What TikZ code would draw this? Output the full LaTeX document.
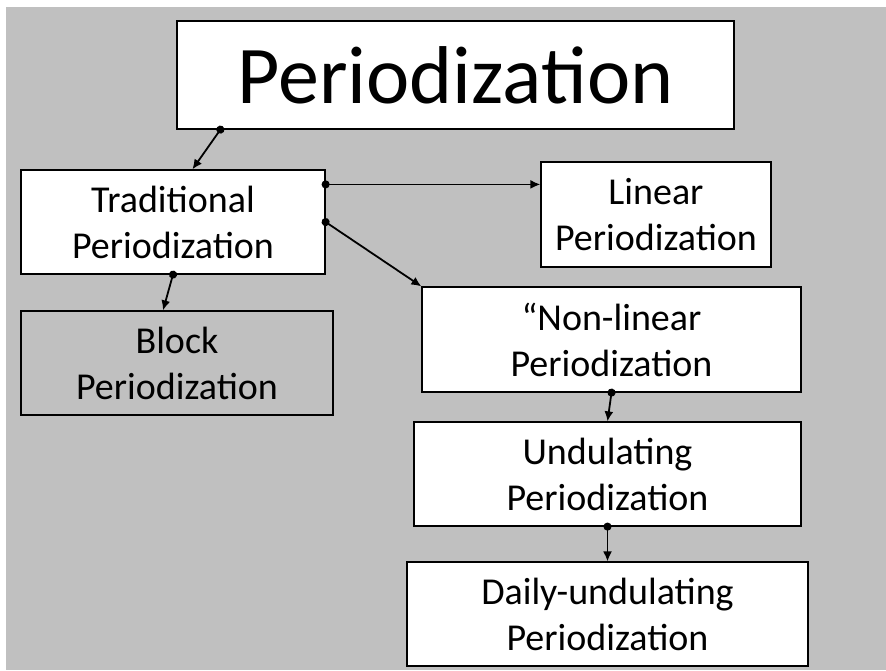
\documentclass[tikz,border=0pt]{standalone}
\usepackage{fontspec}
\setmainfont{Carlito}
\usetikzlibrary{arrows.meta}

\definecolor{slidegray}{RGB}{192,192,192}
\tikzset{
	box/.style={draw=black, line width=1.2pt, fill=white, align=center, inner sep=0pt,
		font=\fontsize{38}{46}\selectfont},
	link/.style={line width=1.8pt, shorten <=-4pt, {Circle[length=8pt]}-{Latex[length=10pt,width=9pt]}}
}

\begin{document}
\begin{tikzpicture}[x=1pt, y=-1pt]
		\useasboundingbox (0,0) rectangle (886,670);
		\fill[slidegray] (6,7) rectangle (886,670);

		\node[box, minimum width=557pt, minimum height=108pt, font=\fontsize{82}{96}\selectfont] (title) at (455.5,75) {Periodization};
		\node[box, minimum width=304pt, minimum height=104pt] (trad) at (173,222) {Traditional\\Periodization};
		\node[box, minimum width=230pt, minimum height=105pt] (lin) at (656,214.5) {Linear\\Periodization};
		\node[box, minimum width=379pt, minimum height=105pt] (nonlin) at (611.5,339.5) {``Non-linear\\Periodization};
		\node[box, fill=slidegray, minimum width=312pt, minimum height=104pt] (block) at (177,363) {Block\\Periodization};
		\node[box, minimum width=387pt, minimum height=104pt] (undul) at (607.5,474) {Undulating\\Periodization};
		\node[box, minimum width=401pt, minimum height=104pt] (daily) at (607.5,614) {Daily-undulating\\Periodization};

		\draw[link] ([xshift=44pt]title.south west) -- ([xshift=172pt]trad.north west);
		\draw[link] ([yshift=-15pt]trad.north east) -- ([yshift=-15pt]trad.north east -| lin.west);
		\draw[link] (trad.east) -- (nonlin.north west);
		\draw[link] (trad.south) -- ([xshift=-14pt]block.north);
		\draw[link] (nonlin.south) -- (undul.north);
		\draw[link] (undul.south) -- (daily.north);
	\end{tikzpicture}
\end{document}
